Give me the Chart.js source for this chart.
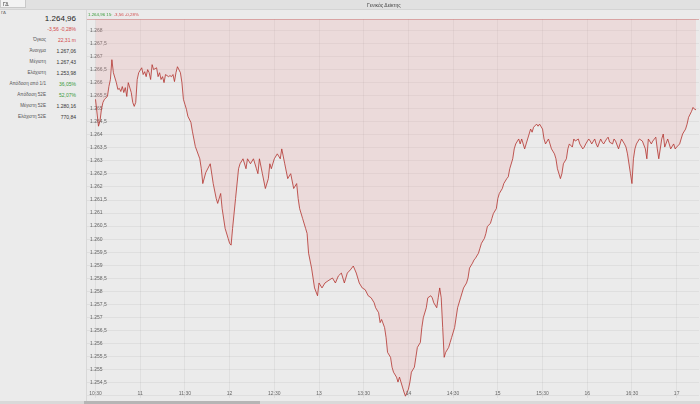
<!DOCTYPE html>
<html>
<head>
<meta charset="utf-8">
<script src="https://cdn.jsdelivr.net/npm/chart.js@4"></script>
<style>
  html, body { margin: 0; padding: 0; width: 700px; height: 404px; overflow: hidden; background: #ebebeb; font-family: "Liberation Sans", Arial, sans-serif; }
  #page { position: relative; width: 700px; height: 404px; }
  #chart { position: absolute; left: 0; top: 0; }
  .abs { position: absolute; white-space: nowrap; }
  #topbar { left: 0; top: 0; width: 700px; height: 9px; background: #e1e1e1; border-bottom: 1px solid #d4d4d4; }
  #tab { left: 0; top: 0; width: 26px; height: 8px; background: #f3f3f3; border: 1px solid #c9c9c9; border-top: 0; font-size: 5px; line-height: 8px; padding-left: 2px; color: #333; box-sizing: border-box; }
  #side { left: 0; top: 10px; width: 86px; height: 394px; background: #ebebeb; border-right: 1px solid #d8d8d8; }
  .lbl { font-size: 4.6px; color: #555; text-align: right; width: 46px; left: 0; }
  .val { font-size: 5px; color: #333; text-align: right; width: 76px; left: 0; }
  #title { top: 2px; left: 367px; font-size: 5px; color: #444; }
  #info { top: 12px; left: 88px; font-size: 4.4px; }
  #scroll { left: 0; top: 401px; width: 700px; height: 3px; background: #d9d9d9; }
  #thumb { left: 84px; top: 401px; width: 176px; height: 3px; background: #b5b5b5; }
</style>
</head>
<body>
<div id="page">
  <canvas id="chart" width="700" height="404"></canvas>
  <div class="abs" id="topbar"></div>
  <div class="abs" id="tab">ΓΔ</div>
  <div class="abs" id="title">Γενικός Δείκτης</div>
  <div class="abs" id="info"><span style="color:#3a9a3a">1.264,96 15:</span> <span style="color:#d24a4a">-3,56 -0,28%</span></div>
  <div class="abs" id="side"></div>
  <div class="abs" id="scroll"></div>
  <div class="abs" id="thumb"></div>
</div>
<script>
// intraday index values (Γενικός Δείκτης)
const times = [
  '10:30','10:32','10:33','10:34','10:35','10:36','10:38','10:39','10:40','10:41','10:42','10:44','10:45','10:46','10:47','10:48','10:49','10:50','10:51','10:52','10:54','10:55','10:56','10:57','10:58','10:59',
  '11:01','11:02','11:03','11:04','11:05','11:06','11:07','11:08','11:09','11:11','11:12','11:13','11:14','11:15','11:16','11:17','11:19','11:20','11:21','11:22','11:23','11:24','11:25','11:27','11:28','11:29','11:30','11:31','11:32','11:34','11:35','11:37','11:40','11:41','11:42','11:44','11:47','11:49','11:51','11:52','11:54','11:55','11:57','11:59',
  '12:00','12:01','12:02','12:04','12:06','12:07','12:09','12:11','12:12','12:14','12:16','12:18','12:19','12:20','12:22','12:24','12:26','12:27','12:28','12:30','12:32','12:34','12:35','12:37','12:39','12:41','12:43','12:45','12:46','12:47','12:49','12:51','12:52','12:53','12:55','12:56','12:57','12:59',
  '13:00','13:02','13:04','13:06','13:09','13:11','13:13','13:15','13:17','13:19','13:21','13:23','13:25','13:27','13:29','13:31','13:33','13:35','13:37','13:38','13:40','13:41','13:42','13:44','13:45','13:46','13:48','13:49','13:50','13:52','13:53','13:54','13:56','13:57','13:58',
  '14:00','14:01','14:02','14:04','14:05','14:06','14:08','14:09','14:10','14:12','14:13','14:15','14:16','14:17','14:19','14:20','14:21','14:22','14:23','14:24','14:25','14:27','14:28','14:29','14:31','14:32','14:33','14:35','14:36','14:37','14:39','14:40','14:41','14:43','14:44','14:45','14:47','14:48','14:49','14:51','14:52','14:53','14:55','14:56','14:57','14:59',
  '15:00','15:01','15:03','15:04','15:06','15:07','15:08','15:10','15:11','15:12','15:14','15:15','15:16','15:18','15:19','15:20','15:22','15:23','15:24','15:26','15:27','15:28','15:30','15:31','15:32','15:34','15:35','15:36','15:38','15:39','15:40','15:42','15:43','15:44','15:46','15:47','15:48','15:50','15:51','15:52','15:54','15:55','15:57','15:58','15:59',
  '16:01','16:02','16:03','16:05','16:06','16:07','16:09','16:10','16:11','16:13','16:14','16:15','16:17','16:18','16:19','16:21','16:22','16:23','16:25','16:26','16:27','16:29','16:30','16:31','16:32','16:33','16:35','16:37','16:39','16:40','16:41','16:43','16:44','16:46','16:47','16:48','16:50','16:51','16:52','16:54','16:55','16:56','16:58','16:59',
  '17:00','17:02','17:03','17:04','17:06','17:07','17:08','17:10','17:11','17:12','17:13'
];
const values = [
  1265.36,1264.33,1264.52,1264.98,1265.24,1265.36,1265.47,1265.85,1266.12,1266.88,1266.38,1266.00,1265.74,1265.78,1265.66,1265.85,1265.62,1265.81,1265.47,1266.00,1265.62,1265.24,1265.09,1265.24,1266.12,1266.38,
  1266.57,1266.31,1266.42,1266.23,1266.50,1266.38,1266.12,1266.69,1266.50,1266.57,1266.23,1266.38,1266.12,1266.23,1266.00,1266.31,1266.23,1266.27,1266.23,1266.31,1266.04,1266.38,1266.61,1266.38,1266.00,1265.36,1265.17,1264.98,1264.71,1264.48,1264.14,1263.55,1263.08,1262.70,1262.13,1262.55,1262.89,1262.13,1261.56,1261.37,1261.75,1261.17,1260.41,1260.03,
  1259.84,1259.77,1260.41,1261.56,1262.70,1262.89,1263.08,1262.70,1263.08,1262.89,1263.08,1262.70,1262.51,1263.08,1262.51,1261.94,1262.32,1262.89,1262.70,1263.08,1263.27,1263.08,1263.46,1262.89,1262.32,1262.51,1261.94,1262.13,1261.56,1261.17,1260.79,1260.41,1260.22,1259.46,1258.89,1258.51,1258.13,1257.83,
  1258.32,1258.13,1258.32,1258.40,1258.51,1258.32,1258.59,1258.70,1258.32,1258.70,1258.82,1258.97,1258.70,1258.32,1258.13,1258.06,1257.83,1257.75,1257.56,1257.37,1257.18,1256.80,1256.92,1256.61,1256.23,1255.66,1255.47,1255.09,1254.90,1254.71,1254.52,1254.71,1254.33,1254.14,1253.98,
  1254.25,1254.52,1254.90,1255.09,1255.47,1255.85,1256.04,1256.61,1256.99,1257.37,1257.75,1257.83,1257.75,1257.56,1257.37,1257.75,1258.13,1257.75,1256.61,1255.47,1255.66,1255.85,1256.04,1256.23,1256.61,1256.99,1257.37,1257.75,1257.94,1258.13,1258.32,1258.51,1258.89,1259.08,1259.20,1259.27,1259.46,1259.65,1259.84,1260.03,1260.22,1260.49,1260.60,1260.79,1260.98,1261.17,
  1261.56,1261.75,1261.94,1262.13,1262.32,1262.39,1262.70,1263.08,1263.46,1263.65,1263.84,1263.65,1263.84,1263.46,1263.65,1263.84,1264.22,1264.10,1264.29,1264.41,1264.33,1264.41,1264.22,1263.84,1263.65,1263.84,1263.65,1263.46,1263.27,1263.08,1262.70,1262.32,1262.51,1262.89,1263.08,1263.46,1263.65,1263.53,1263.84,1263.76,1263.84,1263.65,1263.46,1263.53,1263.65,
  1263.84,1263.76,1263.65,1263.84,1263.65,1263.53,1263.84,1263.72,1263.65,1263.84,1263.91,1263.72,1263.65,1263.84,1263.76,1263.46,1263.65,1263.84,1263.65,1263.53,1263.27,1262.51,1262.13,1263.08,1263.46,1263.65,1263.84,1263.76,1263.46,1263.08,1263.84,1263.65,1263.76,1263.91,1263.46,1263.08,1263.84,1264.03,1263.53,1263.84,1263.65,1263.46,1263.65,1263.46,
  1263.53,1263.65,1263.84,1264.03,1264.22,1264.41,1264.67,1264.90,1265.05,1264.98,1264.96
];

// x-axis tick positions and their labels
const tickTimes = ['10:30','11:00','11:30','12:00','12:30','13:00','13:30','14:00','14:30','15:00','15:30','16:00','16:30','17:00'];
const tickLabels = ['10:30','11','11:30','12','12:30','13','13:30','14','14:30','15','15:30','16','16:30','17'];

// side panel
const statLabels = ['Όγκος','Άνοιγμα','Μέγιστη','Ελάχιστη','Απόδοση από 1/1','Απόδοση 52Ε','Μέγιστη 52Ε','Ελάχιστη 52Ε'];
const statValues = ['22,31 m','1.267,06','1.267,43','1.253,98','36,05%','52,07%','1.280,16','770,84'];
const statColors = ['#d24a4a','#333','#333','#333','#3a9a3a','#3a9a3a','#333','#333'];
const lastPrice = '1.264,96';
const lastChange = '-3,56 -0,28%';

const toMin = s => { const [h, m] = s.split(':').map(Number); return h * 60 + m }

const fmtGr = v => {
  const whole = Math.floor(v + 1e-9);
  const frac = Math.round((v - whole) * 10);
  const w = whole.toString().replace(/\B(?=(\d{3})+(?!\d))/g, '.');
  return frac ? w + ',' + frac : w;
}

// build side panel
const side = document.getElementById('page');
const addText = (txt, cls, top, color, extra) => {
  const d = document.createElement('div');
  d.className = 'abs ' + cls;
  d.style.top = top + 'px';
  if (color) d.style.color = color;
  if (extra) Object.assign(d.style, extra);
  d.textContent = txt;
  side.appendChild(d);
}
addText('ΓΔ', 'lbl', 10, '#555', { textAlign: 'left', left: '1px', fontSize: '4.4px' });
addText(lastPrice, 'val', 14, '#222', { fontSize: '8px' });
addText(lastChange, 'val', 26, '#d24a4a', { fontSize: '5px' });
statLabels.forEach((l, i) => {
  const top = 37 + i * 11;
  addText(l, 'lbl', top);
  addText(statValues[i], 'val', top - 0.5, statColors[i]);
});

const points = times.map((t, i) => ({ x: toMin(t), y: values[i] }));

const xLabels = {
  id: 'xLabels',
  afterDraw(chart) {
    const { ctx, chartArea, scales } = chart;
    ctx.save();
    // previous close line at the top edge
    ctx.strokeStyle = 'rgba(200,120,120,0.55)';
    ctx.lineWidth = 1;
    ctx.beginPath();
    ctx.moveTo(chartArea.left, chartArea.top + 0.5);
    ctx.lineTo(chartArea.right, chartArea.top + 0.5);
    ctx.stroke();
    ctx.font = '5px "Liberation Sans", Arial, sans-serif';
    ctx.fillStyle = '#666';
    ctx.textAlign = 'center';
    ctx.textBaseline = 'middle';
    tickTimes.forEach((t, i) => {
      ctx.fillText(tickLabels[i], scales.x.getPixelForValue(toMin(t)), chartArea.bottom - 4);
    });
    ctx.restore();
  }
}

new Chart(document.getElementById('chart'), {
  type: 'line',
  data: {
    datasets: [{
      label: 'Γενικός Δείκτης',
      data: points,
      borderColor: '#b3322d',
      borderWidth: 0.8,
      backgroundColor: 'rgba(236,160,160,0.22)',
      fill: 'end',
      pointRadius: 0,
      tension: 0,
    }]
  },
  options: {
    responsive: false,
    animation: false,
    devicePixelRatio: 1,
    layout: { padding: { left: 87, top: 19, right: 1, bottom: 3 } },
    plugins: { legend: { display: false }, tooltip: { enabled: false } },
    scales: {
      x: {
        type: 'linear',
        min: 624.3,
        max: 1035,
        afterFit: s => { s.height = 0 },
        afterBuildTicks: s => { s.ticks = tickTimes.map(t => ({ value: toMin(t) })) },
        ticks: { display: false },
        grid: { color: 'rgba(0,0,0,0.05)', drawTicks: false },
        border: { display: false },
      },
      y: {
        min: 1253.91,
        max: 1268.44,
        afterFit: s => { s.width = 0 },
        ticks: {
          stepSize: 0.5,
          includeBounds: false,
          mirror: true,
          padding: 3,
          color: '#666',
          font: { size: 5, family: '"Liberation Sans", Arial, sans-serif' },
          callback: v => v < 1254.2 ? '' : fmtGr(v),
        },
        grid: { color: 'rgba(0,0,0,0.05)', drawTicks: false },
        border: { display: false },
      }
    }
  },
  plugins: [xLabels]
})
</script>
</body>
</html>
